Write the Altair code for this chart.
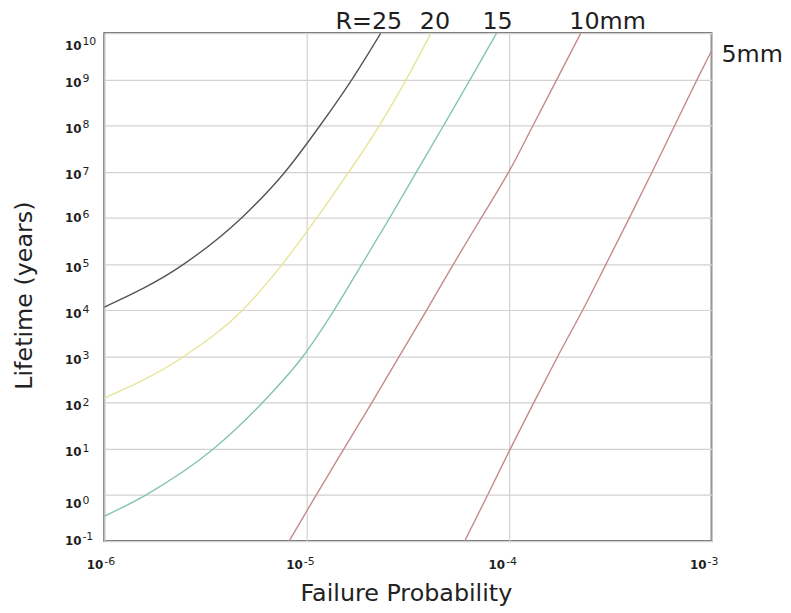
import altair as alt
import pandas as pd

# ---- data (log10 of probability / lifetime) ----
series_names = ["R=25", "20", "15", "10mm", "5mm"]
label_texts = ["R=25", "20", "15", "10mm", "5mm"]
line_colors = ["#555555", "#e6e496", "#84c3b4", "#c48a8a", "#c48a8a"]

r25_logp = [-6.0, -5.607, -5.322, -5.106, -4.934, -4.776, -4.634]
r25_logl = [4.07, 5, 6, 7, 8, 9, 10]

r20_logp = [-6.0, -5.607, -5.317, -5.120, -4.950, -4.791, -4.641, -4.508, -4.386]
r20_logl = [2.10, 3, 4, 5, 6, 7, 8, 9, 10]

r15_logp = [-6.0, -5.795, -5.460, -5.219, -5.019, -4.865, -4.727, -4.590, -4.457, -4.324, -4.192, -4.062]
r15_logl = [-0.46, 0, 1, 2, 3, 4, 5, 6, 7, 8, 9, 10]

r10_logp = [-5.087, -4.953, -4.816, -4.678, -4.543, -4.408, -4.275, -4.138, -4.001, -3.882, -3.764, -3.646]
r10_logl = [-1, 0, 1, 2, 3, 4, 5, 6, 7, 8, 9, 10]

r5_logp = [-4.220, -4.106, -3.994, -3.878, -3.760, -3.637, -3.521, -3.406, -3.293, -3.182, -3.071, -3.0]
r5_logl = [-1, 0, 1, 2, 3, 4, 5, 6, 7, 8, 9, 9.62]

x_tick_exps = [-6, -5, -4, -3]
y_tick_exps = [-1, 0, 1, 2, 3, 4, 5, 6, 7, 8, 9, 10]
tick_base = "10"

all_logp = [r25_logp, r20_logp, r15_logp, r10_logp, r5_logp]
all_logl = [r25_logl, r20_logl, r15_logl, r10_logl, r5_logl]

rows = []
for name, lp, ll in zip(series_names, all_logp, all_logl):
    for i, (a, b) in enumerate(zip(lp, ll)):
        rows.append({"series": name, "order": i, "P": 10.0 ** a, "L": 10.0 ** b})
df = pd.DataFrame(rows)

FONT = "DejaVu Sans"
INK = "#1e1e1e"

x_scale = alt.Scale(type="log", domain=[10.0 ** x_tick_exps[0], 10.0 ** x_tick_exps[-1]], nice=False)
y_scale = alt.Scale(type="log", domain=[10.0 ** y_tick_exps[0], 10.0 ** y_tick_exps[-1]], nice=False)

x_axis = alt.Axis(
    values=[10.0 ** e for e in x_tick_exps],
    labels=False,
    title="Failure Probability",
    titleFont=FONT, titleFontSize=24, titleFontWeight="normal", titleColor="#222222",
    titleX=304, titleY=60, titleAnchor="middle", titleAlign="center", titleBaseline="alphabetic",
    ticks=False, tickSize=0, domain=False,
    grid=True, gridColor="#d2d2d2", gridWidth=1.2,
)

y_axis = alt.Axis(
    values=[10.0 ** e for e in y_tick_exps],
    labels=False,
    title="Lifetime (years)",
    titleFont=FONT, titleFontSize=24, titleFontWeight="normal", titleColor="#222222",
    titleX=-80, titleY=264, titleAngle=270, titleAlign="center", titleBaseline="middle",
    ticks=False, tickSize=0, domain=False,
    grid=True, gridColor="#d2d2d2", gridWidth=1.2,
)

lines = alt.Chart(df).mark_line(interpolate="monotone", strokeWidth=1.4, clip=True).encode(
    x=alt.X("P:Q", scale=x_scale, axis=x_axis),
    y=alt.Y("L:Q", scale=y_scale, axis=y_axis),
    color=alt.Color("series:N", scale=alt.Scale(domain=series_names, range=line_colors), legend=None),
    detail="series:N",
    order="order:Q",
)

layers = [lines]


def text_at(P, L, text, size, weight, align, dx, dy):
    d = pd.DataFrame({"P": [P], "L": [L], "label": [text]})
    return alt.Chart(d).mark_text(
        font=FONT, fontSize=size, fontWeight=weight, color=INK,
        align=align, baseline="alphabetic", dx=dx, dy=dy,
    ).encode(x=alt.X("P:Q", scale=x_scale), y=alt.Y("L:Q", scale=y_scale), text="label:N")


# ---- tick labels: "10" with a raised exponent ----
x_label_dx = {-6: -1, -5: -4, -4: -4, -3: -5}      # style nudges (px)
for e in x_tick_exps:
    P, L = 10.0 ** e, 10.0 ** y_tick_exps[0]
    dx = x_label_dx[e]
    layers.append(text_at(P, L, tick_base, 12, "bold", "right", dx, 28.5))
    layers.append(text_at(P, L, str(e), 11, "normal", "left", dx + 1, 24))

y_label_nudge = {10: 12, 0: 9, -1: -1, 6: 0}         # style nudges (px)
for e in y_tick_exps:
    P, L = 10.0 ** x_tick_exps[0], 10.0 ** e
    dy = 4.5 + y_label_nudge.get(e, 3)
    layers.append(text_at(P, L, tick_base, 12, "bold", "left", -39.5, dy))
    layers.append(text_at(P, L, str(e), 11, "normal", "left", -22, dy - 4.5))

# ---- curve labels at the curve ends ----
label_styles = [("center", -12, -4), ("center", 4, -4), ("center", 1, -4), ("center", 27, -4), ("left", 10, 11)]
for name, text, (align, dx, dy) in zip(series_names, label_texts, label_styles):
    end = df[df["series"] == name].iloc[-1]
    layers.append(text_at(end["P"], end["L"], text, 24, "normal", align, dx, dy))

chart = alt.layer(*layers).properties(
    width=612,
    height=512,
    autosize=alt.AutoSizeParams(type="none"),
    padding={"left": 97, "top": 23, "right": 72, "bottom": 70},
    background="white",
).configure_view(stroke="#555555", strokeWidth=1.8)

chart.save("out.html", embed_options={"renderer": "svg", "actions": False})
